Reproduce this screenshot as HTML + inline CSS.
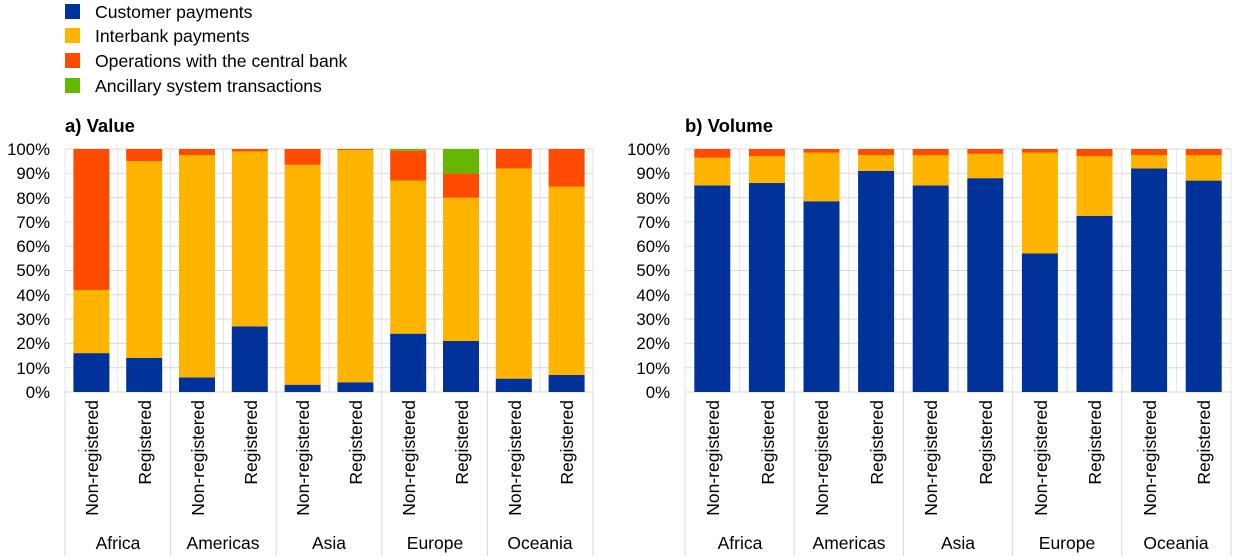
<!DOCTYPE html>
<html><head><meta charset="utf-8"><style>
html,body{margin:0;padding:0;background:#fff;}
svg{display:block;font-family:"Liberation Sans",Arial,sans-serif;}
</style></head><body>
<svg id="s" width="1240" height="556" viewBox="0 0 1240 556" xmlns="http://www.w3.org/2000/svg">
<g id="grid"></g>
<g id="bars"></g>
<!-- legend -->
<rect x="65" y="4" width="15" height="15" fill="#003299"/>
<text x="95" y="18" font-size="17.6">Customer payments</text>
<rect x="65" y="28" width="15" height="15" fill="#FFB400"/>
<text x="95" y="42" font-size="17.6">Interbank payments</text>
<rect x="65" y="53" width="15" height="15" fill="#FF4B00"/>
<text x="95" y="67" font-size="17.6">Operations with the central bank</text>
<rect x="65" y="78" width="15" height="15" fill="#65B800"/>
<text x="95" y="92" font-size="17.6">Ancillary system transactions</text>
<text x="65" y="132" font-size="18.5" font-weight="bold">a) Value</text>
<text x="685" y="132" font-size="18.5" font-weight="bold">b) Volume</text>
<g font-size="16.8" text-anchor="end">
<text x="50" y="155">100%</text><text x="50" y="179">90%</text><text x="50" y="204">80%</text><text x="50" y="228">70%</text><text x="50" y="252">60%</text><text x="50" y="276">50%</text><text x="50" y="301">40%</text><text x="50" y="325">30%</text><text x="50" y="349">20%</text><text x="50" y="374">10%</text><text x="50" y="398">0%</text>
<text x="670" y="155">100%</text><text x="670" y="179">90%</text><text x="670" y="204">80%</text><text x="670" y="228">70%</text><text x="670" y="252">60%</text><text x="670" y="276">50%</text><text x="670" y="301">40%</text><text x="670" y="325">30%</text><text x="670" y="349">20%</text><text x="670" y="374">10%</text><text x="670" y="398">0%</text>
</g>
<g font-size="17.5" text-anchor="end">
<text transform="translate(98,400) rotate(-90)">Non-registered</text>
<text transform="translate(151,400) rotate(-90)">Registered</text>
<text transform="translate(204,400) rotate(-90)">Non-registered</text>
<text transform="translate(257,400) rotate(-90)">Registered</text>
<text transform="translate(309,400) rotate(-90)">Non-registered</text>
<text transform="translate(362,400) rotate(-90)">Registered</text>
<text transform="translate(415,400) rotate(-90)">Non-registered</text>
<text transform="translate(468,400) rotate(-90)">Registered</text>
<text transform="translate(521,400) rotate(-90)">Non-registered</text>
<text transform="translate(573,400) rotate(-90)">Registered</text>
<text transform="translate(719,400) rotate(-90)">Non-registered</text>
<text transform="translate(774,400) rotate(-90)">Registered</text>
<text transform="translate(828,400) rotate(-90)">Non-registered</text>
<text transform="translate(883,400) rotate(-90)">Registered</text>
<text transform="translate(937,400) rotate(-90)">Non-registered</text>
<text transform="translate(992,400) rotate(-90)">Registered</text>
<text transform="translate(1047,400) rotate(-90)">Non-registered</text>
<text transform="translate(1101,400) rotate(-90)">Registered</text>
<text transform="translate(1156,400) rotate(-90)">Non-registered</text>
<text transform="translate(1210,400) rotate(-90)">Registered</text>
</g>
<g font-size="17.5" text-anchor="middle">
<text x="118" y="549">Africa</text><text x="223" y="549">Americas</text><text x="329" y="549">Asia</text><text x="435" y="549">Europe</text><text x="540" y="549">Oceania</text>
<text x="740" y="549">Africa</text><text x="849" y="549">Americas</text><text x="958" y="549">Asia</text><text x="1067" y="549">Europe</text><text x="1176" y="549">Oceania</text>
</g>
</svg>
<script>
(function(){
var NS="http://www.w3.org/2000/svg",g=document.getElementById('grid'),b=document.getElementById('bars');
function el(p,t,a){var e=document.createElementNS(NS,t);for(var k in a)e.setAttribute(k,a[k]);p.appendChild(e);return e;}
var top=149,bot=392,H=bot-top;
var C=["#003299","#FFB400","#FF4B00","#65B800"];
function chart(x0,x1,bw,data){
 var slot=(x1-x0)/10;
 for(var i=0;i<=10;i++){var y=top+H*i/10;el(g,'line',{x1:x0,x2:x1,y1:y,y2:y,stroke:'#d9d9d9','stroke-width':1});}
 for(var i=0;i<=10;i++){var x=x0+slot*i;el(g,'line',{x1:x,x2:x,y1:top,y2:bot,stroke:'#e3e3e3','stroke-width':1});}
 for(var i=0;i<=5;i++){var x=x0+slot*2*i;el(g,'line',{x1:x,x2:x,y1:bot,y2:556,stroke:'#d9d9d9','stroke-width':1});}
 el(g,'line',{x1:x0,x2:x1,y1:bot,y2:bot,stroke:'#d9d9d9','stroke-width':1});
 data.forEach(function(d,i){var cx=x0+slot*(i+0.5),prev=0;
  d.forEach(function(v,j){if(v<=prev)return;var y1=bot-H*v/100,y0=bot-H*prev/100;
   el(b,'rect',{x:cx-bw/2,y:y1,width:bw,height:y0-y1,fill:C[j]});prev=v;});});
}
chart(65,593,36,[[16,42,100],[14,95,100],[6,97.5,100],[27,99,100],[3,93.5,100],[4,99.6,100],[24,87,99.3,100],[21,80,90,100],[5.5,92,100],[7,84.5,100]]);
chart(685,1231,36,[[85,96.5,100],[86,97,100],[78.5,98.5,100],[91,97.5,100],[85,97.5,100],[88,98,100],[57,98.5,100],[72.5,97,100],[92,97.5,100],[87,97.5,100]]);
})();
</script>
</body></html>
